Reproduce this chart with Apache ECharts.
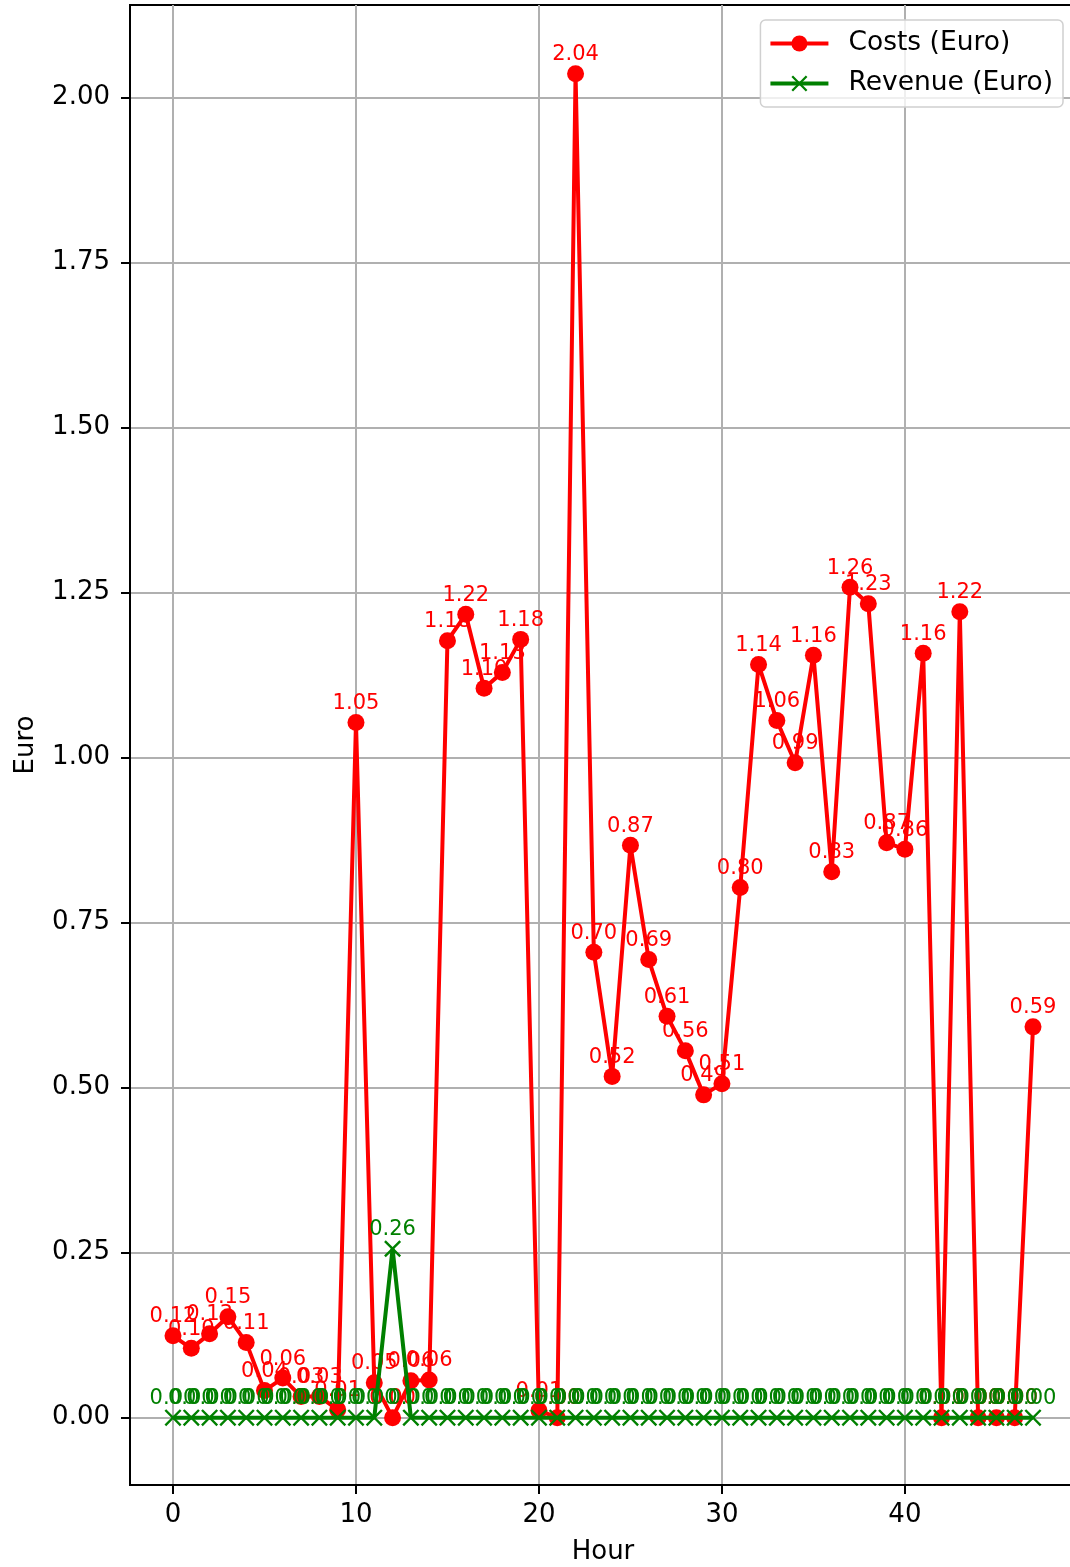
<!DOCTYPE html>
<html>
<head>
<meta charset="utf-8">
<script src="https://cdn.jsdelivr.net/npm/echarts@6/dist/echarts.min.js"></script>
<style>
html, body { margin: 0; padding: 0; background: #fff; }
#chart { width: 1070px; height: 1567px; }
</style>
</head>
<body>
<div id="chart"></div>
<script>
// hours 0..47
var hours = [];
for (var h = 0; h < 48; h++) hours.push(h);

var costs = [
  0.124, 0.105, 0.127, 0.153, 0.114, 0.041, 0.060, 0.032, 0.032, 0.012,
  1.053, 0.053, 0.000, 0.056, 0.057, 1.177, 1.217, 1.105, 1.129, 1.179,
  0.011, 0.000, 2.036, 0.705, 0.517, 0.867, 0.694, 0.608, 0.556, 0.489,
  0.506, 0.803, 1.141, 1.056, 0.992, 1.155, 0.827, 1.258, 1.233, 0.871,
  0.861, 1.158, 0.000, 1.221, 0.000, 0.000, 0.000, 0.592
];
var revenue = [
  0, 0, 0, 0, 0, 0, 0, 0, 0, 0,
  0, 0, 0.256, 0, 0, 0, 0, 0, 0, 0,
  0, 0, 0, 0, 0, 0, 0, 0, 0, 0,
  0, 0, 0, 0, 0, 0, 0, 0, 0, 0,
  0, 0, 0, 0, 0, 0, 0, 0
];
var yTicks = [0, 0.25, 0.5, 0.75, 1.0, 1.25, 1.5, 1.75, 2.0];
var xTicks = [0, 10, 20, 30, 40];

var font = 'DejaVu Sans';
var crossPath = 'path://M0,1L1,0L5,4L9,0L10,1L6,5L10,9L9,10L5,6L1,10L0,9L4,5Z';

function pairs(vals) {
  return vals.map(function (v, i) { return [hours[i], v]; });
}

var chart = echarts.init(document.getElementById('chart'));
var option = {
  animation: false,
  backgroundColor: '#fff',
  textStyle: { fontFamily: font },
  grid: {
    left: 130, right: -6, top: 5, bottom: 82,
    outerBoundsMode: 'none',
    containLabel: false,
    show: true, borderColor: '#000', borderWidth: 2, backgroundColor: 'transparent'
  },
  legend: {
    orient: 'vertical',
    right: 7, top: 20,
    padding: [10, 10, 10, 8],
    itemGap: 13,
    itemWidth: 58, itemHeight: 20,
    backgroundColor: 'rgba(255,255,255,0.8)',
    borderColor: '#d0d0d0', borderWidth: 1.5, borderRadius: 5,
    lineStyle: { width: 4 },
    textStyle: { fontFamily: font, fontSize: 26.5, color: '#000', padding: [0, 0, 0, 15] },
    data: ['Costs (Euro)', 'Revenue (Euro)']
  },
  xAxis: {
    type: 'value',
    min: -2.35, max: 49.35,
    name: 'Hour', nameLocation: 'middle', nameGap: 54,
    nameTextStyle: { fontFamily: font, fontSize: 26, color: '#000' },
    axisLine: { show: true, onZero: false, lineStyle: { color: '#000', width: 2 } },
    axisTick: { show: true, customValues: xTicks, length: 9, lineStyle: { color: '#000', width: 2 } },
    axisLabel: { customValues: xTicks, fontFamily: font, fontSize: 26, color: '#000', margin: 17 },
    splitLine: { show: true, lineStyle: { color: '#b0b0b0', width: 2 } }
  },
  yAxis: {
    type: 'value',
    min: -0.102, max: 2.14,
    name: 'Euro', nameLocation: 'middle', nameGap: 91, nameRotate: 90,
    nameTextStyle: { fontFamily: font, fontSize: 26, color: '#000' },
    axisLine: { show: true, onZero: false, lineStyle: { color: '#000', width: 2 } },
    axisTick: { show: true, customValues: yTicks, length: 9, lineStyle: { color: '#000', width: 2 } },
    axisLabel: {
      customValues: yTicks, fontFamily: font, fontSize: 26, color: '#000', margin: 20,
      formatter: function (v) { return v.toFixed(2); }
    },
    splitLine: { show: true, lineStyle: { color: '#b0b0b0', width: 2 } }
  },
  series: [
    {
      name: 'Costs (Euro)',
      type: 'line',
      data: pairs(costs),
      symbol: 'circle', symbolSize: 17,
      lineStyle: { color: '#ff0000', width: 4 },
      itemStyle: { color: '#ff0000' },
      label: {
        show: true, position: 'top', distance: 0,
        fontFamily: font, fontSize: 21, color: '#ff0000',
        formatter: function (p) { return p.value[1].toFixed(2); }
      },
      z: 2
    },
    {
      name: 'Revenue (Euro)',
      type: 'line',
      data: pairs(revenue),
      symbol: crossPath, symbolSize: 17,
      lineStyle: { color: '#008000', width: 4 },
      itemStyle: { color: '#008000' },
      label: {
        show: true, position: 'top', distance: 0,
        fontFamily: font, fontSize: 21, color: '#008000',
        formatter: function (p) { return p.value[1].toFixed(2); }
      },
      z: 3
    }
  ]
};
chart.setOption(option);
</script>
</body>
</html>
